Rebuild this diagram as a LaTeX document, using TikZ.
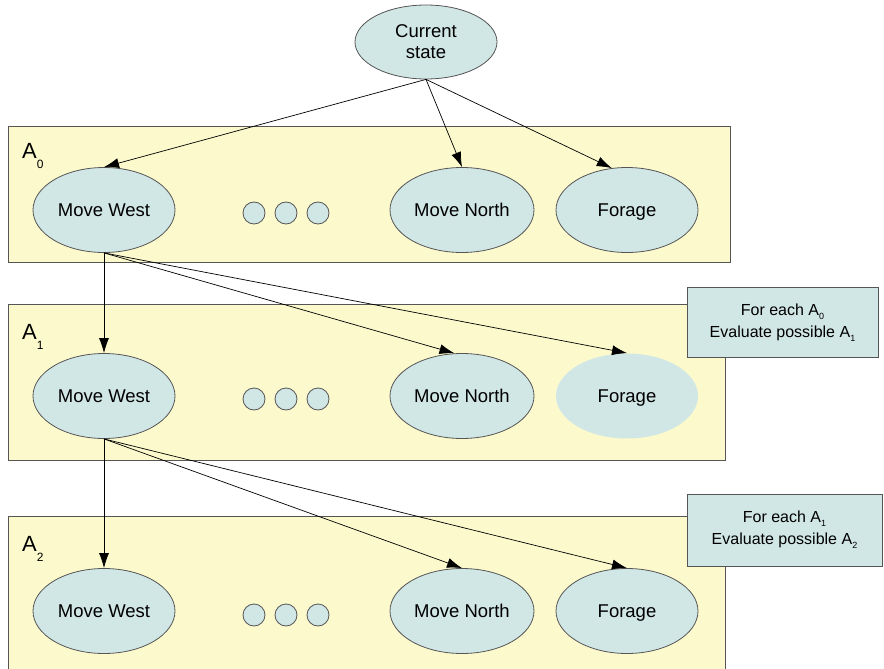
\documentclass[tikz,border=0pt]{standalone}
\usepackage{fontspec}
\setmainfont{Liberation Sans}
\usetikzlibrary{shapes.geometric,arrows.meta}
\definecolor{statefill}{HTML}{D1E7E5}
\definecolor{bandfill}{HTML}{FCFACD}
\definecolor{linegrey}{HTML}{555555}
% size, drop, text
\newcommand{\lowidx}[3]{\raisebox{-#2}{\fontsize{#1}{#1}\selectfont #3}}

\begin{document}
\begin{tikzpicture}[x=1pt,y=-1pt]
\tikzset{vertex/.style = {shape=ellipse,draw=linegrey,fill=statefill,line width=0.8pt,
  minimum width=142pt,minimum height=85pt,inner sep=0pt,align=center,
  font=\fontsize{18.5}{21}\selectfont}}
\tikzset{act/.style = {vertex,text height=13.3pt,text depth=0pt}}
\tikzset{dot/.style = {shape=circle,draw=linegrey,fill=statefill,line width=0.8pt,
  minimum size=22pt,inner sep=0pt}}
\tikzset{band/.style = {draw=linegrey,fill=bandfill,line width=0.8pt}}
\tikzset{note/.style = {draw=linegrey,fill=statefill,line width=0.8pt,inner sep=0pt,
  align=center,font=\fontsize{16}{22}\selectfont}}
\tikzset{edge/.style = {-{Latex[length=15pt,width=10pt]},line width=0.7pt}}
\useasboundingbox (0,0) rectangle (884,669);
% bands
\draw[band] (8,126) rectangle (730,262);
\draw[band] (8,304) rectangle (725,460);
\fill[bandfill] (8,516) rectangle (725,669);
\draw[linegrey,line width=0.8pt] (8,669) |- (725,516) -- (725,669);
\node[anchor=base west,inner sep=0pt] (lab0) at (22,158) {\fontsize{22}{22}\selectfont A\lowidx{12}{10pt}{0}};
\node[anchor=base west,inner sep=0pt] (lab1) at (22,339) {\fontsize{22}{22}\selectfont A\lowidx{12}{10pt}{1}};
\node[anchor=base west,inner sep=0pt] (lab2) at (22,551) {\fontsize{22}{22}\selectfont A\lowidx{12}{10pt}{2}};
% vertices
\node[vertex,minimum height=74pt] (cur) at (426,42) {Current\\state};
\node[act] (mw0) at (104,210) {Move West};
\node[act,minimum width=144pt] (mn0) at (462,210) {Move North};
\node[act] (fo0) at (627,210) {Forage};
\node[act] (mw1) at (104,396) {Move West};
\node[act,minimum width=144pt] (mn1) at (462,396) {Move North};
\node[act,draw=none] (fo1) at (627,396) {Forage};
\node[act] (mw2) at (104,611) {Move West};
\node[act,minimum width=144pt] (mn2) at (462,611) {Move North};
\node[act] (fo2) at (627,611) {Forage};
\foreach \x [count=\i] in {254,286,318} {
  \node[dot] (dot0\i) at (\x,213) {};
  \node[dot] (dot1\i) at (\x,399) {};
  \node[dot] (dot2\i) at (\x,615) {};
}
% notes
\node[note,minimum width=191pt,minimum height=70pt] (note1) at (782.5,322.5)
  {For each A\lowidx{9}{4pt}{0}\\Evaluate possible A\lowidx{9}{4pt}{1}};
\node[note,minimum width=195pt,minimum height=72pt] (note2) at (784.5,530)
  {For each A\lowidx{9}{4pt}{1}\\Evaluate possible A\lowidx{9}{4pt}{2}};
% edges
\draw[edge] (cur.south) to (mw0.north);
\draw[edge] (cur.south) to (mn0.north);
\draw[edge] (cur.south) to (fo0.110);
\draw[edge] (mw0.south) to (mw1.north);
\draw[edge] (mw0.south) to (mn1.100);
\draw[edge] (mw0.south) to (fo1.north);
\draw[edge] (mw1.south) to (mw2.north);
\draw[edge] (mw1.south) to (mn2.north);
\draw[edge] (mw1.south) to (fo2.north);
\end{tikzpicture}
\end{document}
